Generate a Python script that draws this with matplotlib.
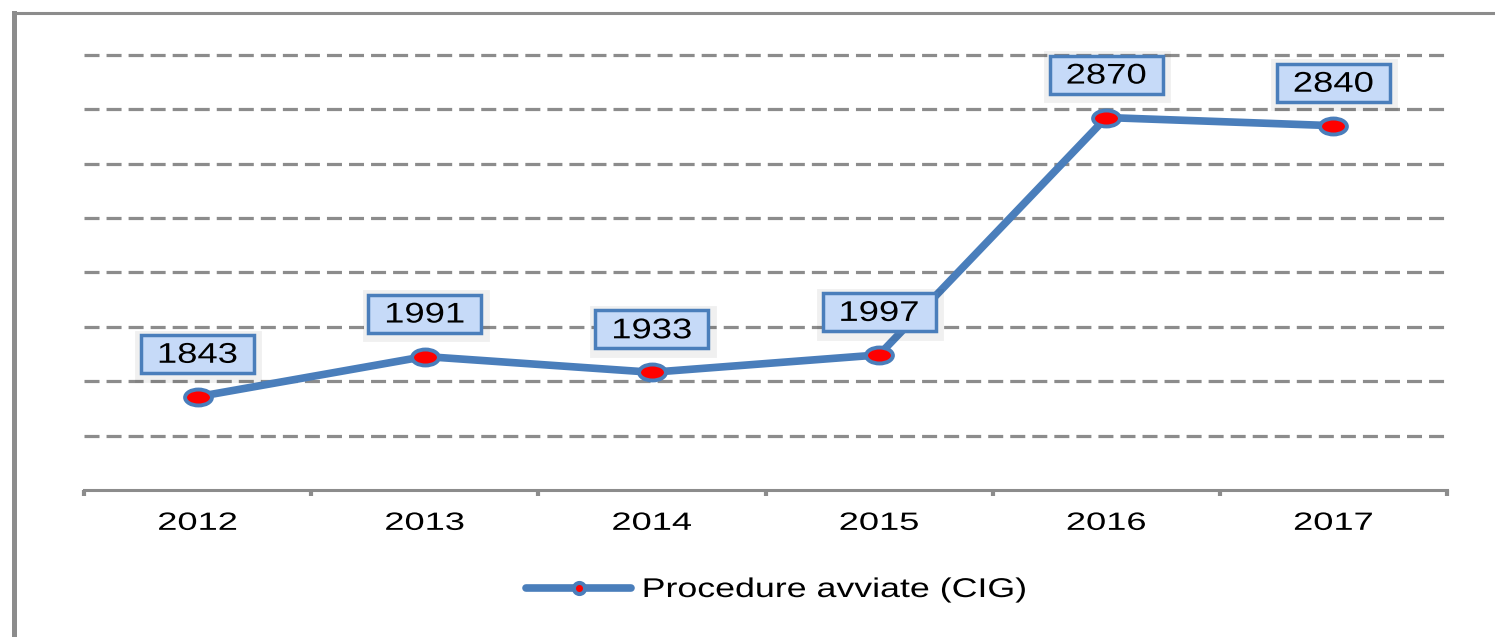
import numpy as np
import matplotlib
matplotlib.use('Agg')
import matplotlib.pyplot as plt
from matplotlib.lines import Line2D
from matplotlib.markers import MarkerStyle
from matplotlib.patheffects import AbstractPathEffect, Stroke, Normal
from matplotlib.path import Path
from matplotlib.transforms import Affine2D

years = ['2012', '2013', '2014', '2015', '2016', '2017']
procedure = [1843, 1991, 1933, 1997, 2870, 2840]
series_name = 'Procedure avviate (CIG)'

BLUE = '#4a7ebb'
GRAY = '#8c8c8c'

plt.rcParams['font.family'] = ['Liberation Sans', 'DejaVu Sans']


class Stretch(AbstractPathEffect):
    # the original picture is stretched sideways, so widen the glyphs too
    def __init__(self, sx, anchor='center'):
        super().__init__()
        self.sx = sx
        self.anchor = anchor

    def draw_path(self, renderer, gc, tpath, affine, rgbFace=None):
        ext = tpath.get_extents()
        cx = (ext.x0 + ext.x1) / 2 if self.anchor == 'center' else 0
        t = Affine2D().translate(-cx, 0).scale(self.sx, 1).translate(cx, 0) + affine
        renderer.draw_path(gc, tpath, t, rgbFace)


def label_box(x0, y0, width, height, mutation_size):
    # fixed size box in pixels, centred on the label text
    w, h = 113, 38
    cx, cy = x0 + width / 2, y0 + height / 2 + 2
    return Path([(cx - w / 2, cy - h / 2), (cx + w / 2, cy - h / 2),
                 (cx + w / 2, cy + h / 2), (cx - w / 2, cy + h / 2),
                 (cx - w / 2, cy - h / 2)], closed=True)


fig = plt.figure(figsize=(14.95, 6.37), dpi=100)
ax = fig.add_axes([84 / 1495, 1 - 490 / 637, (1447 - 84) / 1495, (490 - 55) / 637])

x = np.arange(len(years))
ax.plot(x, procedure, color=BLUE, lw=5.5, solid_capstyle='round', solid_joinstyle='round',
        marker=MarkerStyle('o', transform=Affine2D().scale(1.68, 1)), ms=11.5,
        mfc='red', mec=BLUE, mew=2.8, zorder=3, label=series_name)

for xi, v in zip(x, procedure):
    ax.annotate(str(v), (xi, v), xytext=(0, 29.5), textcoords='offset points',
                ha='center', va='center', fontsize=20.5, color='black', zorder=4,
                bbox=dict(boxstyle=label_box, fc='#c6daf8', ec=BLUE, lw=2.5,
                          path_effects=[Stroke(offset=(1, -2), linewidth=10, foreground='black', alpha=0.06),
                                        Normal()]),
                path_effects=[Stretch(1.28)])

ax.set_xlim(-0.5, 5.5)
ax.set_ylim(1500, 3100)

# grid
ax.set_yticks(np.arange(1700, 3101, 200))
ax.tick_params(axis='y', left=False, labelleft=False)
ax.yaxis.grid(True, color=GRAY, lw=2.3, linestyle=(0, (4.7, 2.2)))
ax.set_axisbelow(True)
for gl in ax.get_ygridlines():
    gl.set_clip_on(False)

# category axis: marks between the years, labels in the middle
ax.set_xticks(np.arange(-0.5, 6, 1))
ax.set_xticks(x, labels=years, minor=True)
ax.tick_params(axis='x', which='major', direction='out', length=4.5, width=3, color=GRAY, labelbottom=False)
ax.tick_params(axis='x', which='minor', length=0, pad=15, labelsize=18)
for lbl in ax.get_xticklabels(minor=True):
    lbl.set_path_effects([Stretch(1.45)])

for s in ['left', 'right', 'top']:
    ax.spines[s].set_visible(False)
ax.spines['bottom'].set_color(GRAY)
ax.spines['bottom'].set_linewidth(2.2)

# legend
handle = Line2D([], [], color=BLUE, lw=5.5, solid_capstyle='round', marker='o', ms=8,
                mfc='red', mec=BLUE, mew=2.9)
leg = fig.legend([handle], [series_name], loc='center left',
                 bbox_to_anchor=(526 / 1495, 1 - 590 / 637), frameon=False, fontsize=19.5,
                 handlelength=3.88, handletextpad=0.39, borderpad=0, borderaxespad=0)
for t in leg.get_texts():
    t.set_path_effects([Stretch(1.32, anchor='left')])

# chart area border (cut off on the right and bottom)
fig.add_artist(Line2D([14 / 1495, 14 / 1495], [-0.05, 1 - 13 / 637], transform=fig.transFigure,
                      color=GRAY, lw=3.6, solid_capstyle='projecting'))
fig.add_artist(Line2D([14 / 1495, 1.05], [1 - 13 / 637, 1 - 13 / 637], transform=fig.transFigure,
                      color=GRAY, lw=2.2))

fig.savefig('out.png', dpi=100)
